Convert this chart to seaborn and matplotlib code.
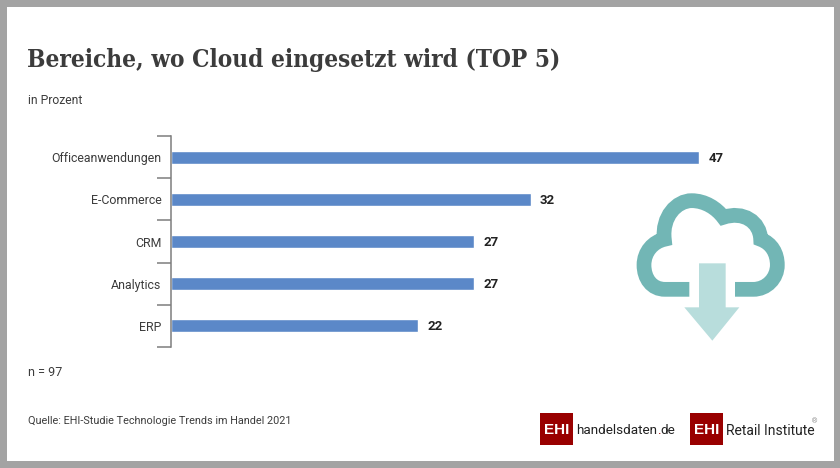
import matplotlib
matplotlib.use("Agg")
import matplotlib.pyplot as plt
import seaborn as sns
import pandas as pd
from matplotlib.patches import Rectangle, PathPatch, Polygon
from matplotlib.path import Path

categories = ["Officeanwendungen", "E-Commerce", "CRM", "Analytics", "ERP"]
values = [47, 32, 27, 27, 22]

body_font = "Roboto"
dark = "#3c3c3c"

sns.set_theme(style="white")
plt.rcParams["font.family"] = [body_font, "DejaVu Sans"]

W, H = 840, 468
fig = plt.figure(figsize=(W / 100, H / 100), dpi=100, facecolor="#a3a3a3")

# overlay in pixel coordinates for frame, text and logos
bg = fig.add_axes([0, 0, 1, 1], zorder=0)
bg.set_xlim(0, W)
bg.set_ylim(H, 0)
bg.axis("off")
bg.add_patch(Rectangle((6.5, 6.5), 827, 454.5, fc="white", ec="none"))

# chart
px_per_unit = 11.25
left, right = 170.5, 170.5 + 50 * px_per_unit
top, bottom = 136, 347
ax = fig.add_axes([left / W, 1 - bottom / H, (right - left) / W, (bottom - top) / H], zorder=1)
ax.patch.set_alpha(0)

df = pd.DataFrame({"cat": categories, "val": values})
sns.barplot(data=df, y="cat", x="val", color="#5b88c8", saturation=1, width=0.31, ax=ax, orient="h")
ax.set_xlim(0, 50)
ax.set_ylim(len(categories) - 0.5, -0.5)
ax.set_xlabel("")
ax.set_ylabel("")
ax.set_xticks([])
sns.despine(ax=ax, left=False, bottom=True)
ax.spines["left"].set_color("#7d7d7d")
ax.spines["left"].set_linewidth(1.1)

# brackets between categories, labels centred on the bars
ax.set_yticks([i - 0.5 for i in range(len(categories) + 1)], labels=[""] * (len(categories) + 1))
ax.set_yticks(range(len(categories)), labels=categories, minor=True)
ax.tick_params(axis="y", which="major", length=10, width=1.1, color="#7d7d7d", left=True)
ax.tick_params(axis="y", which="minor", length=0, pad=6.5, labelsize=8.9, labelcolor=dark)

labels = ax.bar_label(ax.containers[0], padding=6.5, fontsize=9.5, fontweight="bold", color="#222222")
for t in labels:
    t.xyann = (6.5, -0.7)

# texts
bg.text(27, 60, "Bereiche, wo Cloud eingesetzt wird (TOP 5)", family="DejaVu Serif", stretch="condensed",
        fontweight="bold", fontsize=17.5, color=dark, va="center", ha="left")
bg.text(28, 100, "in Prozent", fontsize=8.7, color=dark, va="center")
bg.text(28, 373, "n = 97", fontsize=9, color=dark, va="center")
bg.text(28, 421, "Quelle: EHI-Studie Technologie Trends im Handel 2021", fontsize=7.8, color=dark, va="center")


# cloud icon, coordinates taken from a 3x crop at (620, 180)
def zx(p):
    return (620 + p[0] / 3, 180 + p[1] / 3)


cloud_pts = [(208, 328), (135, 328),
             (95, 328), (72, 295), (72, 255),
             (72, 215), (100, 185), (133, 178),
             (125, 110), (170, 62), (215, 62),
             (255, 62), (290, 85), (310, 112),
             (370, 92), (420, 125), (422, 178),
             (455, 190), (472, 220), (472, 255),
             (472, 295), (440, 328), (400, 328),
             (345, 328)]
cloud_codes = [Path.MOVETO, Path.LINETO] + [Path.CURVE4] * 21 + [Path.LINETO]
bg.add_patch(PathPatch(Path([zx(p) for p in cloud_pts], cloud_codes), fc="none", ec="#72b6b5",
                       lw=10.6, capstyle="butt", joinstyle="miter"))
arrow = [(237, 250), (317, 250), (317, 382), (358, 382), (277, 482), (193, 382), (237, 382)]
bg.add_patch(Polygon([zx(p) for p in arrow], closed=True, fc="#b8dddc", ec="none"))

# logos
logo_font = "Roboto"
for x0 in (540, 690):
    bg.add_patch(Rectangle((x0, 412.5), 32.5, 32.5, fc="#990000", ec="none"))
    bg.text(x0 + 16.25, 429.5, "EHI", color="white", fontweight="bold", fontsize=11, family="Liberation Sans",
            ha="center", va="center")

renderer = fig.canvas.get_renderer()
x = 576
for piece, col in [("handelsdaten", "#222222"), (".", "#990000"), ("de", "#222222")]:
    t = bg.text(x, 429.5, piece, color=col, fontsize=9.7, family=logo_font, ha="left", va="center_baseline")
    x = t.get_window_extent(renderer).x1
bg.text(725.5, 429.5, "Retail Institute", color="#222222", fontsize=10, family=logo_font, ha="left",
        va="center_baseline")
bg.text(815, 422, "®", color="#777777", fontsize=5, family="Liberation Sans", ha="center", va="center")

fig.savefig("out.png", dpi=100, facecolor=fig.get_facecolor())
